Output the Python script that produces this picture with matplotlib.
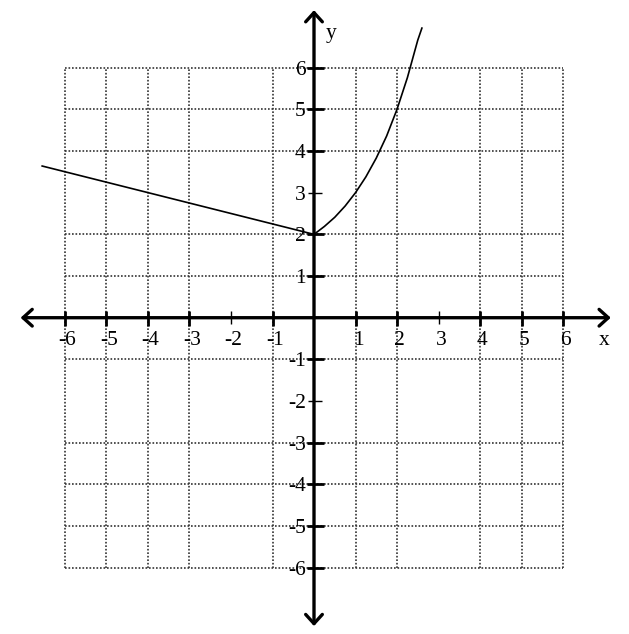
import matplotlib.pyplot as plt

# values
left_x = [-6.55, 0.0]
left_y = [3.64, 2.0]
right_x = [0.0, 0.25, 0.5, 0.75, 1.0, 1.25, 1.5, 1.75, 2.0, 2.25, 2.5, 2.6]
right_y = [2.0, 2.19, 2.41, 2.68, 3.0, 3.38, 3.83, 4.36, 5.0, 5.76, 6.66, 6.95]

tick_vals = [-6, -5, -4, -3, -2, -1, 1, 2, 3, 4, 5, 6]
grid_x = [-6, -5, -4, -3, -1, 1, 2, 4, 5, 6]   # no dotted line at -2 and 3
grid_y = [-6, -5, -4, -3, -1, 1, 2, 4, 5, 6]   # no dotted line at 3 and -2
thin_x = [-2, 3]
thin_y = [3, -2]

plt.rcParams['font.family'] = ['Liberation Serif', 'DejaVu Serif']

fig = plt.figure(figsize=(6.29, 6.34), dpi=100)
ax = fig.add_axes([0, 0, 1, 1])
ax.set_xlim(-7.566, 7.59)
ax.set_ylim(-7.59, 7.624)
ax.axis('off')

# dotted grid
for gx in grid_x:
    ax.plot([gx, gx], [-6, 6], color='#333333', lw=1.2, linestyle=(0, (1, 1.1)), zorder=1)
for gy in grid_y:
    ax.plot([-6, 6], [gy, gy], color='#333333', lw=1.2, linestyle=(0, (1, 1.1)), zorder=1)

# axes with open arrow heads
arrow = dict(arrowstyle='<->,head_length=0.33,head_width=0.3', lw=2.4, color='black',
             mutation_scale=20, shrinkA=0, shrinkB=0)
ax.annotate('', xy=(7.15, 0), xytext=(-7.07, 0), arrowprops=arrow, zorder=3)
ax.annotate('', xy=(0, 7.38), xytext=(0, -7.40), arrowprops=arrow, zorder=3)

# ticks
for t in tick_vals:
    thin = t in thin_x
    ax.plot([t, t], [-0.15 if thin else -0.19, 0.15 if thin else 0.17], color='black',
            lw=1.0 if thin else 2.0, solid_capstyle='butt', zorder=3)
for t in tick_vals:
    thin = t in thin_y
    ax.plot([-0.14 if thin else -0.17, 0.2 if thin else 0.24], [t, t], color='black',
            lw=1.0 if thin else 2.0, solid_capstyle='butt', zorder=3)

# tick labels
for t in tick_vals:
    ax.text(t + 0.06, -0.55, str(t), fontsize=15.5, ha='center', va='center', zorder=4)
    ax.text(-0.2, t - 0.06, str(t), fontsize=15.5, ha='right', va='center', zorder=4)

ax.text(6.99, -0.55, 'x', fontsize=15.5, ha='center', va='center')
ax.text(0.4, 6.83, 'y', fontsize=15.5, ha='center', va='center')

# the graph
ax.plot(left_x, left_y, color='black', lw=1.2, zorder=5)
ax.plot(right_x, right_y, color='black', lw=1.2, zorder=5)

fig.savefig('out.png', dpi=100, facecolor='white')
